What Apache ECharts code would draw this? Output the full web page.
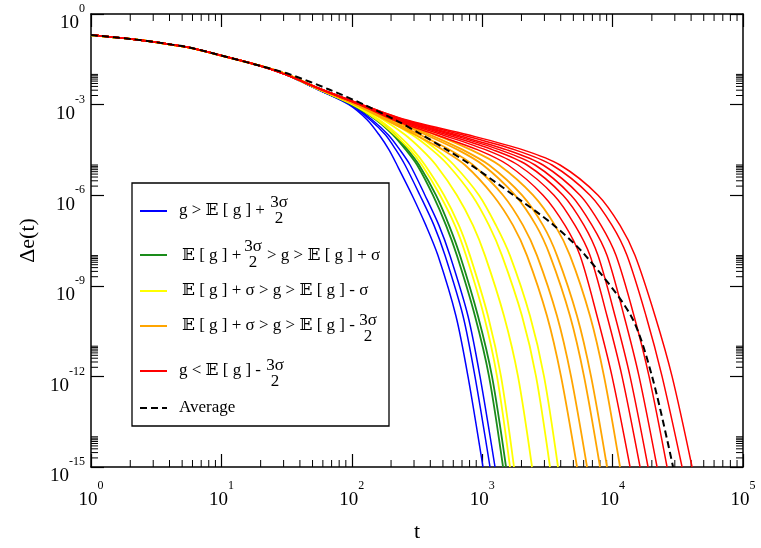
<!DOCTYPE html>
<html>
<head>
<meta charset="utf-8">
<title>Delta e(t)</title>
<script src="https://cdn.jsdelivr.net/npm/echarts@6.0.0/dist/echarts.min.js"></script>
<style>
html, body { margin: 0; padding: 0; background: #fff; }
#main { width: 761px; height: 548px; }
</style>
</head>
<body>
<div id="main"></div>
<script type="text/javascript">
var serif = "'Liberation Serif', 'DejaVu Serif', 'DejaVu Sans', serif";

var levels = [1e-2, 3.16e-3, 1e-3, 3.16e-4, 1e-4, 3.16e-5, 1e-5, 1e-6, 1e-7, 1e-8, 1e-10, 1e-12, 1e-15];

// early part, all runs lie on top of each other here
var headT = [1, 2, 3.2, 5.8, 10, 20];
var headV = [0.2, 0.15, 0.115, 0.076, 0.042, 0.019];

var blueT = [
	[30.8, 55, 95, 131, 162, 193, 222, 290, 370, 458, 629, 778, 1014],
	[30.8, 55, 97, 138, 181, 218, 256, 333, 427, 519, 713, 880, 1148],
	[30.8, 55, 99, 143, 190, 234, 280, 364, 466, 566, 778, 962, 1254]
];
var greenT = [
	[31.3, 56, 100, 153, 207, 260, 317, 419, 528, 640, 880, 1128, 1445],
	[31.3, 56, 102, 156, 214, 269, 328, 442, 557, 676, 928, 1189, 1523]
];
var yellowT = [
	[31.3, 56, 102, 156, 214, 280, 345, 475, 618, 752, 1032, 1299, 1634],
	[31.3, 56, 104, 162, 226, 295, 364, 510, 663, 806, 1108, 1394, 1753],
	[31.3, 57, 106, 174, 256, 345, 442, 640, 850, 1051, 1470, 1882, 2411],
	[31.3, 57, 108, 184, 290, 412, 547, 835, 1128, 1419, 2020, 2587, 3312],
	[31.3, 57, 108, 190, 311, 450, 607, 945, 1276, 1634, 2327, 2979, 3815]
];
var orangeT = [
	[31.9, 57, 106, 181, 306, 501, 738, 1211, 1723, 2206, 3141, 4022, 5336],
	[31.9, 57, 108, 190, 333, 566, 850, 1445, 2056, 2633, 3748, 4800, 6367],
	[31.9, 58, 110, 200, 370, 652, 1014, 1785, 2587, 3312, 4716, 6038, 8011],
	[31.9, 58, 112, 207, 398, 713, 1128, 2020, 2927, 3748, 5336, 6834, 9065],
	[31.9, 58, 112, 214, 442, 821, 1346, 2454, 3617, 4716, 6714, 8597, 11406]
];
var redT = [
	[30.8, 58, 114, 207, 442, 928, 1578, 2927, 4316, 5627, 7597, 9902, 13610],
	[30.8, 58, 116, 218, 492, 1070, 1882, 3554, 5151, 6714, 9065, 11815, 16240],
	[30.8, 59, 116, 226, 537, 1211, 2206, 4167, 6038, 7732, 10440, 13610, 18702],
	[30.8, 59, 118, 234, 586, 1370, 2542, 4800, 6956, 9065, 12240, 15952, 21926],
	[30.8, 59, 118, 242, 629, 1550, 2927, 5627, 8154, 10627, 14605, 19035, 26163],
	[30.8, 59, 120, 251, 700, 1785, 3431, 6714, 9902, 12906, 18054, 23952, 34102],
	[30.8, 59, 120, 260, 778, 2056, 3952, 7732, 11406, 14865, 21165, 28580, 40692]
];
var averageT = [33.6, 67, 124, 214, 345, 537, 821, 1738, 3554, 6200, 13850, 20074, 29091];

var xMinorTicks = [];
for (var d = 1; d < 1e5; d *= 10) {
	for (var k = 2; k <= 9; k++) xMinorTicks.push(k * d);
}
// grace style: one bunch of minor ticks just above every major tick
var yMinorTicks = [];
for (var e = -15; e < 0; e += 3) {
	for (var k2 = 2; k2 <= 10; k2++) yMinorTicks.push(k2 * Math.pow(10, e));
}

function curve(tArr, color, width, dashed) {
	var data = [];
	for (var i = 0; i < headT.length; i++) data.push([headT[i], headV[i]]);
	for (var j = 0; j < tArr.length; j++) data.push([tArr[j], levels[j]]);
	return {
		type: 'line',
		data: data,
		showSymbol: false,
		smooth: 0.3,
		silent: true,
		lineStyle: { color: color, width: width, type: dashed ? [7, 4] : 'solid' }
	};
}

var series = [];
blueT.forEach(function (t) { series.push(curve(t, '#0000ff', 1.5)); });
greenT.forEach(function (t) { series.push(curve(t, '#1a8c1a', 1.8)); });
yellowT.forEach(function (t) { series.push(curve(t, '#ffff00', 1.8)); });
orangeT.forEach(function (t) { series.push(curve(t, '#ffa500', 1.8)); });
redT.forEach(function (t) { series.push(curve(t, '#ff0000', 1.5)); });
series.push(curve(averageT, '#000000', 2, true));

// minor ticks, placed through the axes
series.push({
	type: 'custom',
	silent: true,
	clip: false,
	data: xMinorTicks.map(function (t) { return [t, 1]; }),
	renderItem: function (params, api) {
		var b = api.coord([api.value(0), 1e-15]);
		var t = api.coord([api.value(0), 1]);
		var st = { stroke: '#000', lineWidth: 1 };
		return { type: 'group', children: [
			{ type: 'line', shape: { x1: b[0], y1: b[1], x2: b[0], y2: b[1] - 7 }, style: st },
			{ type: 'line', shape: { x1: t[0], y1: t[1], x2: t[0], y2: t[1] + 7 }, style: st }
		] };
	}
});
series.push({
	type: 'custom',
	silent: true,
	clip: false,
	data: yMinorTicks.map(function (v) { return [1, v]; }),
	renderItem: function (params, api) {
		var l = api.coord([1, api.value(1)]);
		var r = api.coord([1e5, api.value(1)]);
		var st = { stroke: '#000', lineWidth: 1 };
		return { type: 'group', children: [
			{ type: 'line', shape: { x1: l[0], y1: l[1], x2: l[0] + 7, y2: l[1] }, style: st },
			{ type: 'line', shape: { x1: r[0], y1: r[1], x2: r[0] - 7, y2: r[1] }, style: st }
		] };
	}
});

var richLabel = {
	b: { fontFamily: serif, fontSize: 19, lineHeight: 30, verticalAlign: 'bottom', color: '#000' },
	s: { fontFamily: serif, fontSize: 12, lineHeight: 8, verticalAlign: 'top', color: '#000' }
};
function powLabel(v) {
	return '{b|10}{s|' + Math.round(Math.log10(v)) + '}';
}
var axisLineStyle = { color: '#000', width: 1.5 };

function xAxisOpt(pos, labels) {
	return {
		type: 'log', logBase: 10, min: 1, max: 1e5, position: pos,
		axisLine: { show: true, lineStyle: axisLineStyle },
		axisTick: { show: true, inside: true, length: 13, lineStyle: { color: '#000', width: 1.2 } },
		axisLabel: { show: labels, margin: 13, formatter: powLabel, rich: richLabel, showMinLabel: true, showMaxLabel: true },
		splitLine: { show: false },
		name: labels ? 't' : '',
		nameLocation: 'middle',
		nameGap: 54,
		nameTextStyle: { fontFamily: serif, fontSize: 22, color: '#000' }
	};
}
function yAxisOpt(pos, labels) {
	return {
		type: 'log', logBase: 1000, min: 1e-15, max: 1, position: pos,
		axisLine: { show: true, lineStyle: axisLineStyle },
		axisTick: { show: true, inside: true, length: 13, lineStyle: { color: '#000', width: 1.2 } },
		axisLabel: { show: labels, margin: 6, padding: [8, 0, 0, 0], formatter: powLabel, rich: richLabel, showMinLabel: true, showMaxLabel: true },
		splitLine: { show: false },
		name: labels ? '\u0394e(t)' : '',
		nameLocation: 'middle',
		nameGap: 50,
		nameTextStyle: { fontFamily: serif, fontSize: 22, color: '#000' }
	};
}

// legend box, drawn by hand because of the stacked fractions
var legendRows = [211, 255, 291, 326, 371, 408];
var legendColors = ['#0000ff', '#1a8c1a', '#ffff00', '#ffa500', '#ff0000', '#000000'];
var txt = function (x, y, s, align) {
	return { type: 'text', x: x, y: y, z: 101, style: { text: s, fill: '#000', font: '17px ' + serif, align: align || 'left', verticalAlign: 'middle' } };
};
var graphics = [
	{ type: 'rect', shape: { x: 132, y: 183, width: 257, height: 243 }, z: 100, style: { fill: '#fff', stroke: '#000', lineWidth: 1.3 } }
];
legendRows.forEach(function (y, i) {
	graphics.push({ type: 'line', z: 101, shape: { x1: 140, y1: y, x2: 167, y2: y },
		style: { stroke: legendColors[i], lineWidth: 2, lineDash: i === 5 ? [7, 4] : null } });
});
graphics.push(
	txt(179, 211, 'g > \uD835\uDD3C [ g ] +'),
	txt(279, 203, '3\u03C3', 'center'), txt(279, 219, '2', 'center'),
	txt(182, 256, '\uD835\uDD3C [ g ] +'),
	txt(253, 247, '3\u03C3', 'center'), txt(253, 263, '2', 'center'),
	txt(267, 256, '> g > \uD835\uDD3C [ g ] + \u03C3'),
	txt(182, 291, '\uD835\uDD3C [ g ] + \u03C3 > g > \uD835\uDD3C [ g ] - \u03C3'),
	txt(182, 326, '\uD835\uDD3C [ g ] + \u03C3 > g > \uD835\uDD3C [ g ] -'),
	txt(368, 321, '3\u03C3', 'center'), txt(368, 337, '2', 'center'),
	txt(179, 371, 'g < \uD835\uDD3C [ g ] -'),
	txt(275, 366, '3\u03C3', 'center'), txt(275, 382, '2', 'center'),
	txt(179, 408, 'Average')
);

var chart = echarts.init(document.getElementById('main'));
chart.setOption({
	animation: false,
	backgroundColor: '#fff',
	grid: { left: 91, top: 14, width: 652, height: 456 },
	xAxis: [xAxisOpt('bottom', true), xAxisOpt('top', false)],
	yAxis: [yAxisOpt('left', true), yAxisOpt('right', false)],
	series: series,
	graphic: graphics
});
</script>
</body>
</html>
